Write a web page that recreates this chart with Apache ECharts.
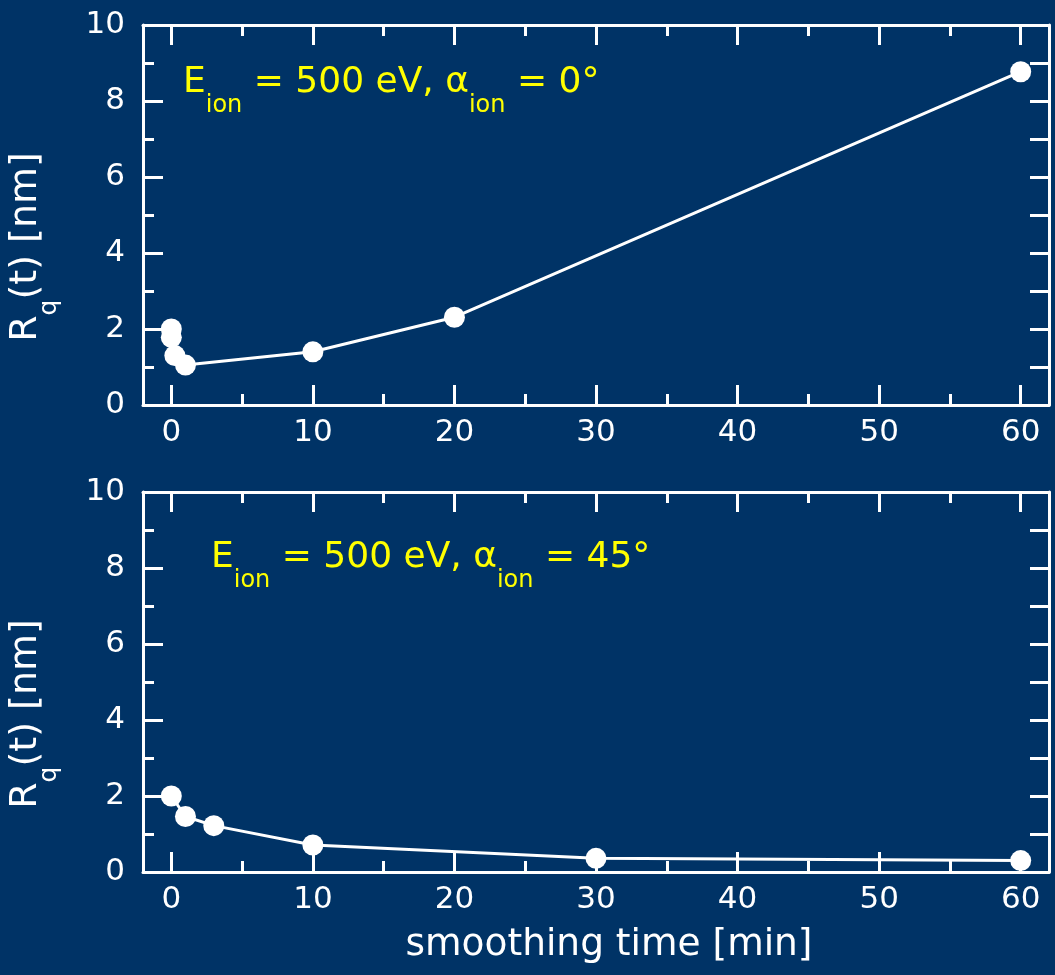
<!DOCTYPE html>
<html>
<head>
<meta charset="utf-8">
<script src="https://cdn.jsdelivr.net/npm/echarts@6/dist/echarts.min.js"></script>
<style>
html,body{margin:0;padding:0;background:#003366;}
#main{width:1055px;height:975px;}
</style>
</head>
<body>
<div id="main"></div>
<script>
// ---- data ----
const timeTop = [0, 0, 0.25, 1, 10, 20, 60];
const rqTop = [2.0, 1.78, 1.3, 1.05, 1.4, 2.31, 8.77];
const timeBottom = [0, 1, 3, 10, 30, 60];
const rqBottom = [2.0, 1.46, 1.22, 0.71, 0.36, 0.30];
const xMajorTicks = [0, 10, 20, 30, 40, 50, 60];
const xMinorTicks = [5, 15, 25, 35, 45, 55];
const annotTop = 'E{sub|ion} = 500 eV, α{sub|ion} = 0°';
const annotBottom = 'E{sub|ion} = 500 eV, α{sub|ion} = 45°';
const yTitle = 'R{sub|q}(t) [nm]';
const xTitle = 'smoothing time [min]';

// ---- styling ----
const FONT = 'DejaVu Sans';
const WHITE = '#ffffff';
const YELLOW = '#ffff00';
const grids = [
  {left: 143, right: 6, top: 25, height: 380},
  {left: 143, right: 6, top: 492, height: 380}
];

function xAxesFor(g) {
  const base = {
    type: 'value', gridIndex: g, min: -2, max: 62,
    splitLine: {show: false}
  };
  return [
    Object.assign({}, base, {
      position: 'bottom',
      axisLine: {show: true, onZero: false, lineStyle: {color: WHITE, width: 3}},
      axisTick: {show: true, inside: true, length: 20, customValues: xMajorTicks, lineStyle: {color: WHITE, width: 3}},
      axisLabel: {show: true, customValues: xMajorTicks, color: WHITE, fontFamily: FONT, fontSize: 31, margin: 12}
    }),
    Object.assign({}, base, {
      position: 'bottom',
      axisLine: {show: false, onZero: false},
      axisTick: {show: true, inside: true, length: 11, customValues: xMinorTicks, lineStyle: {color: WHITE, width: 3}},
      axisLabel: {show: false}
    }),
    Object.assign({}, base, {
      position: 'top',
      axisLine: {show: true, onZero: false, lineStyle: {color: WHITE, width: 3}},
      axisTick: {show: true, inside: true, length: 20, customValues: xMajorTicks, lineStyle: {color: WHITE, width: 3}},
      axisLabel: {show: false}
    }),
    Object.assign({}, base, {
      position: 'top',
      axisLine: {show: false, onZero: false},
      axisTick: {show: true, inside: true, length: 11, customValues: xMinorTicks, lineStyle: {color: WHITE, width: 3}},
      axisLabel: {show: false}
    })
  ];
}
function yAxesFor(g) {
  return [
    {
      type: 'value', gridIndex: g, position: 'left', min: 0, max: 10, interval: 2,
      splitLine: {show: false},
      axisLine: {show: true, onZero: false, lineStyle: {color: WHITE, width: 3}},
      axisTick: {show: true, inside: true, length: 20, lineStyle: {color: WHITE, width: 3}},
      minorTick: {show: true, splitNumber: 2, length: 11, lineStyle: {color: WHITE, width: 3}},
      axisLabel: {show: true, color: WHITE, fontFamily: FONT, fontSize: 31, margin: 18}
    },
    {
      type: 'value', gridIndex: g, position: 'right', min: 0, max: 10, interval: 1,
      splitLine: {show: false},
      axisLine: {show: true, onZero: false, lineStyle: {color: WHITE, width: 3}},
      axisTick: {show: true, inside: true, length: 19, lineStyle: {color: WHITE, width: 3}},
      axisLabel: {show: false}
    }
  ];
}

function richText(text, x, y, size, color, subSize, pad, extra) {
  return Object.assign({
    type: 'text', x: x, y: y, silent: true,
    style: {
      text: text,
      fill: color,
      fontFamily: FONT, fontSize: size,
      textVerticalAlign: 'middle', verticalAlign: 'middle',
      rich: {
        sub: {fontFamily: FONT, fontSize: subSize, lineHeight: subSize, padding: [pad, 0, 0, 0], fill: color, color: color}
      },
      lineHeight: 80
    }
  }, extra || {});
}

const topPairs = timeTop.map((t, i) => [t, rqTop[i]]);
const bottomPairs = timeBottom.map((t, i) => [t, rqBottom[i]]);

const seriesStyle = {
  type: 'line',
  symbol: 'circle', symbolSize: 21,
  itemStyle: {color: WHITE},
  lineStyle: {color: WHITE, width: 3},
  showAllSymbol: true,
  animation: false
};

const option = {
  backgroundColor: '#003366',
  animation: false,
  grid: grids,
  xAxis: xAxesFor(0).concat(xAxesFor(1)),
  yAxis: yAxesFor(0).concat(yAxesFor(1)),
  series: [
    Object.assign({}, seriesStyle, {xAxisIndex: 0, yAxisIndex: 0, data: topPairs}),
    Object.assign({}, seriesStyle, {xAxisIndex: 4, yAxisIndex: 2, data: bottomPairs})
  ],
  graphic: [
    richText(annotTop, 183, 83, 36, YELLOW, 24, 46),
    richText(annotBottom, 211, 558, 36, YELLOW, 24, 46),
    richText(yTitle, 26, 247, 38, WHITE, 25, 46, {rotation: Math.PI / 2}),
    richText(yTitle, 26, 714, 38, WHITE, 25, 46, {rotation: Math.PI / 2}),
    {
      type: 'text', x: 609, y: 945, silent: true,
      style: {text: xTitle, fill: WHITE, fontFamily: FONT, fontSize: 37.5, textAlign: 'center', align: 'center', textVerticalAlign: 'middle', verticalAlign: 'middle'}
    }
  ]
};
option.graphic[2].style.textAlign = 'center'; option.graphic[2].style.align = 'center';
option.graphic[3].style.textAlign = 'center'; option.graphic[3].style.align = 'center';

const chart = echarts.init(document.getElementById('main'), null, {renderer: 'canvas'});
chart.setOption(option);
</script>
</body>
</html>
